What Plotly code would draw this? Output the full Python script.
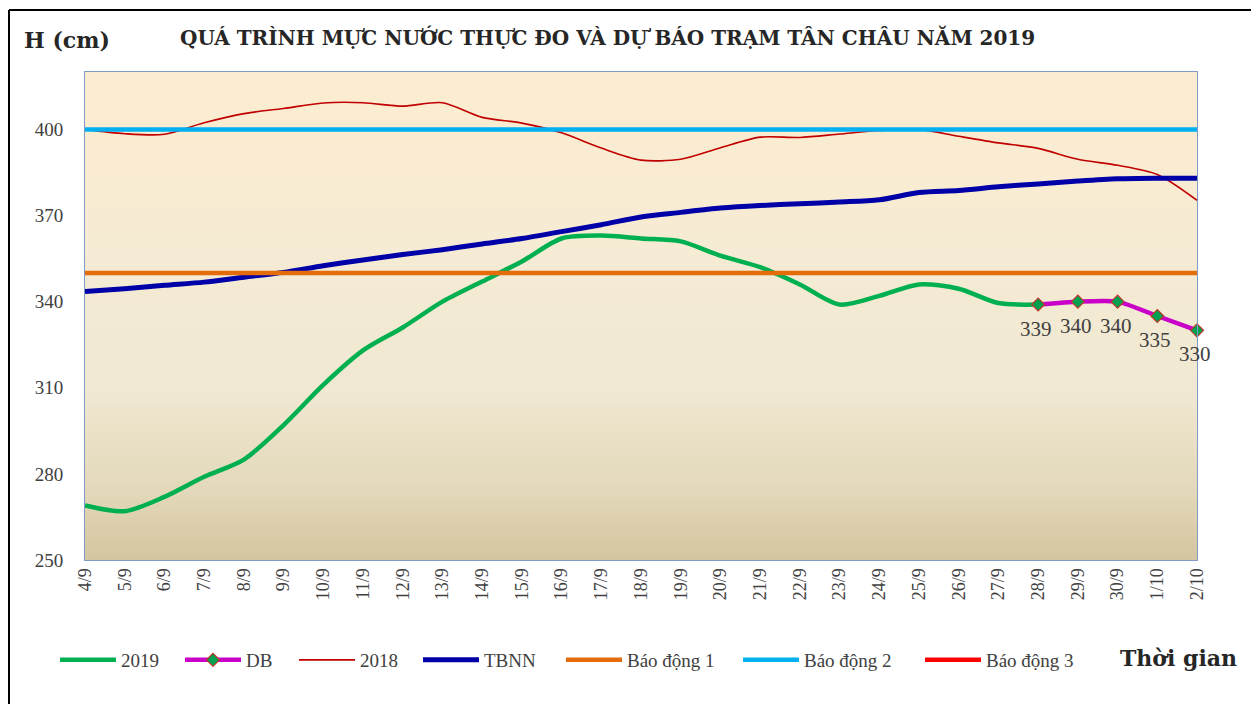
import plotly.graph_objects as go

# ---------------- data ----------------
dates = ["4/9", "5/9", "6/9", "7/9", "8/9", "9/9", "10/9", "11/9", "12/9", "13/9",
         "14/9", "15/9", "16/9", "17/9", "18/9", "19/9", "20/9", "21/9", "22/9", "23/9",
         "24/9", "25/9", "26/9", "27/9", "28/9", "29/9", "30/9", "1/10", "2/10"]

h2019 = [269, 267, 272, 279, 285, 297, 311, 323, 331, 340,
         347, 354, 362, 363, 362, 361, 356, 352, 346, 339,
         342, 346, 344.5, 339.5, 339]

db_dates = ["28/9", "29/9", "30/9", "1/10", "2/10"]
db_values = [339, 340, 340, 335, 330]

h2018 = [400, 398.5, 398.3, 402.3, 405.5, 407.3, 409.2, 409.3, 408.1, 409.3,
         404.2, 402.2, 398.8, 393.5, 389.3, 389.6, 393.6, 397.3, 397.2, 398.4,
         399.6, 400, 397.6, 395.3, 393.4, 389.6, 387.5, 384.3, 375.3]

tbnn = [343.5, 344.5, 345.7, 346.8, 348.5, 350.2, 352.5, 354.5, 356.4, 358.1,
        360.1, 362, 364.4, 366.8, 369.5, 371.1, 372.6, 373.5, 374.1, 374.7,
        375.5, 378, 378.7, 380, 381, 382, 382.8, 383, 383]

bd1_level = 350
bd2_level = 400
bd3_level = 450

y_ticks = [250, 280, 310, 340, 370, 400]

# ---------------- layout helpers (page pixels of plot area) ----------------
PX0, PX1, PY0, PY1 = 85, 1197, 72, 560
OFF = 8  # page body margin


def fx(px):
    return (px - PX0) / (PX1 - PX0)


def fy(py):
    return (PY1 - py) / (PY1 - PY0)


SERIF = "Liberation Serif, Times New Roman, serif"
WIDE = "DejaVu Serif, serif"
TXT = "#404040"

fig = go.Figure()

fig.add_trace(go.Scatter(x=dates[:len(h2019)], y=h2019, name="2019", mode="lines", legend="legend",
                         line=dict(color="#00B050", width=4.5, shape="spline", smoothing=0.8)))
fig.add_trace(go.Scatter(x=db_dates, y=db_values, name="DB", mode="lines+markers", legend="legend2",
                         line=dict(color="#C800C8", width=4.5, shape="spline", smoothing=0.6),
                         marker=dict(symbol="diamond", size=10, color="#00A050",
                                     line=dict(color="#C0392B", width=1.2)),
                         cliponaxis=False))
fig.add_trace(go.Scatter(x=dates, y=h2018, name="2018", mode="lines", legend="legend3",
                         line=dict(color="#C00000", width=1.6, shape="spline", smoothing=0.8)))
fig.add_trace(go.Scatter(x=dates, y=tbnn, name="TBNN", mode="lines", legend="legend4",
                         line=dict(color="#0000A8", width=5, shape="spline", smoothing=0.8)))
fig.add_trace(go.Scatter(x=dates, y=[bd1_level] * len(dates), name="Báo động 1", mode="lines",
                         legend="legend5", line=dict(color="#E46C0A", width=4.5)))
fig.add_trace(go.Scatter(x=dates, y=[bd2_level] * len(dates), name="Báo động 2", mode="lines",
                         legend="legend6", line=dict(color="#00B0F0", width=4.5)))
fig.add_trace(go.Scatter(x=dates, y=[bd3_level] * len(dates), name="Báo động 3", mode="lines",
                         legend="legend7", line=dict(color="#FF0000", width=4.5)))

# data labels for forecast points
annotations = []
for d, v in zip(db_dates, db_values):
    annotations.append(dict(x=d, y=v, xref="x", yref="y", text=str(v), showarrow=False,
                            yshift=-24, xshift=-2,
                            font=dict(family=SERIF, size=21, color=TXT)))

annotations += [
    dict(text="<b>H (cm)</b>", xref="paper", yref="paper", x=fx(22), y=fy(40),
         xanchor="left", yanchor="middle", showarrow=False,
         font=dict(family=WIDE, size=22, color="#262626")),
    dict(text="<b>QUÁ TRÌNH MỰC NƯỚC THỰC ĐO VÀ DỰ BÁO TRẠM TÂN CHÂU NĂM 2019</b>",
         xref="paper", yref="paper", x=fx(607), y=fy(38),
         xanchor="center", yanchor="middle", showarrow=False,
         font=dict(family=WIDE, size=20, color="#262626")),
    dict(text="<b>Thời gian</b>", xref="paper", yref="paper", x=fx(1118),
         y=fy(658), xanchor="left", yanchor="middle", showarrow=False,
         font=dict(family=WIDE, size=22, color="#262626")),
]

# gradient plot background (style only)
stops = [(0.0, (0xD3, 0xC5, 0xA0)), (0.14, (0xE3, 0xD8, 0xB9)), (0.35, (0xF0, 0xE8, 0xD2)),
         (0.6, (0xF5, 0xEB, 0xD4)), (1.0, (0xFD, 0xED, 0xD0))]


def col_at(t):
    for (a, ca), (b, cb) in zip(stops[:-1], stops[1:]):
        if a <= t <= b:
            f = (t - a) / (b - a)
            return "rgb(%d,%d,%d)" % tuple(round(ca[i] + (cb[i] - ca[i]) * f) for i in range(3))
    return "rgb(%d,%d,%d)" % stops[-1][1]


N = 80
shapes = []
for k in range(N):
    y0 = k / N
    y1 = min((k + 1) / N + 0.002, 1)
    shapes.append(dict(type="rect", xref="x domain", yref="y domain", x0=0, x1=1, y0=y0, y1=y1,
                       fillcolor=col_at((y0 + y1) / 2), line=dict(width=0), layer="below"))
# outer frame (four edges)
frame = dict(xref="paper", yref="paper", type="line", line=dict(color="black", width=2), layer="above")
FL, FR, FT, FB = fx(9), fx(1254), fy(10), fy(711)
shapes.append(dict(frame, x0=FL, x1=FR, y0=FT, y1=FT))
shapes.append(dict(frame, x0=FL, x1=FL, y0=FT, y1=FB))
shapes.append(dict(frame, x0=FR, x1=FR, y0=FT, y1=FB))

# one legend per entry so positions follow the reference
legend_starts = [59, 184, 298, 422, 565, 742, 924]
legend_keys = ["legend", "legend2", "legend3", "legend4", "legend5", "legend6", "legend7"]
legend_cfg = {}
for key, sx in zip(legend_keys, legend_starts):
    legend_cfg[key] = dict(orientation="h", x=fx(sx - 4), xanchor="left", y=fy(660), yanchor="middle",
                           font=dict(family=SERIF, size=19, color=TXT), bgcolor="rgba(0,0,0,0)",
                           itemwidth=56, borderwidth=0, itemclick=False)

fig.update_layout(
    width=1259, height=704,
    margin=dict(l=PX0 - OFF, r=1259 + OFF - PX1, t=PY0 - OFF, b=704 + OFF - PY1),
    paper_bgcolor="white", plot_bgcolor="white",
    shapes=shapes,
    showlegend=True,
    font=dict(family=SERIF, color=TXT),
    annotations=annotations,
    **legend_cfg,
)

fig.update_xaxes(type="category", categoryorder="array", categoryarray=dates,
                 range=[0, len(dates) - 1], tickangle=-90, showgrid=False,
                 showline=True, linecolor="#7F9BC6", linewidth=1, mirror=True,
                 ticks="", tickfont=dict(family=SERIF, size=18, color=TXT))
fig.update_yaxes(range=[250, 420], tickvals=y_ticks, showgrid=False, zeroline=False,
                 showline=True, linecolor="#7F9BC6", linewidth=1, mirror=True,
                 ticks="", ticklabelstandoff=17, tickfont=dict(family=SERIF, size=19, color=TXT))

fig.write_html("out.html")
